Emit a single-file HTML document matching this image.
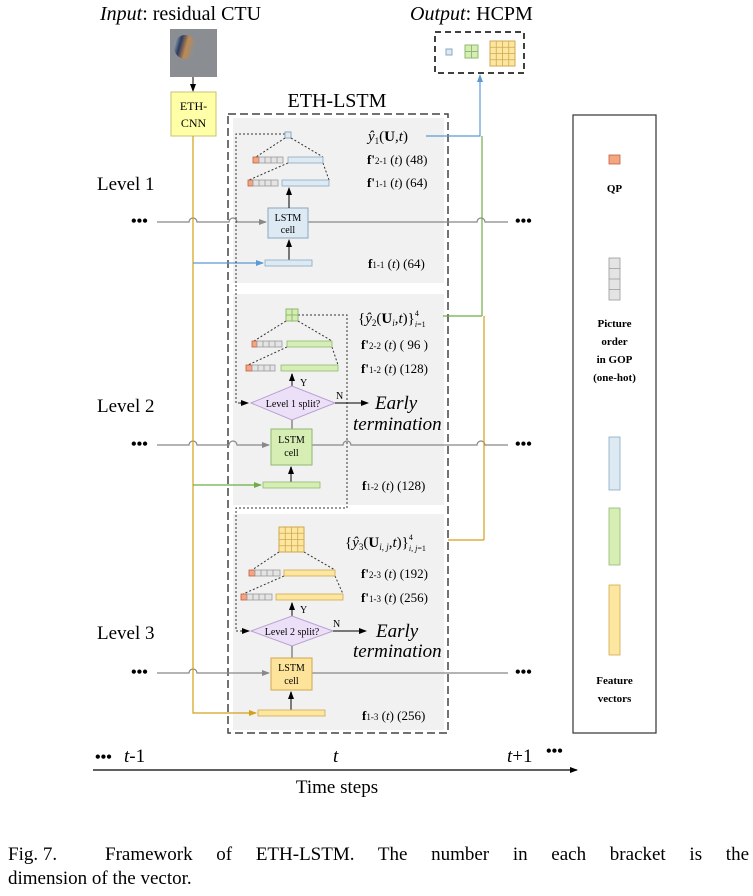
<!DOCTYPE html>
<html><head><meta charset="utf-8"><style>
body{margin:0;background:#fff;width:753px;height:896px;overflow:hidden;position:relative}
svg{display:block}
text{font-family:"Liberation Serif",serif;fill:#000}
.cap{position:absolute;left:8px;width:741px;font:19px/24px "Liberation Serif",serif;color:#000;white-space:nowrap}
.c1{top:843px;text-align:justify;text-align-last:justify;white-space:normal}
.c2{top:867px}
.fig{display:inline-block;width:97px;text-align:left;text-align-last:left}
</style></head><body>
<svg width="753" height="896" viewBox="0 0 753 896" xmlns="http://www.w3.org/2000/svg">
<defs>
<marker id="ak" markerWidth="8" markerHeight="8" refX="7" refY="4" orient="auto" markerUnits="userSpaceOnUse"><path d="M0,1 L8,4 L0,7z" fill="#000"/></marker>
<marker id="ag" markerWidth="8" markerHeight="8" refX="7" refY="4" orient="auto" markerUnits="userSpaceOnUse"><path d="M0,1 L8,4 L0,7z" fill="#888"/></marker>
<marker id="ab" markerWidth="8" markerHeight="8" refX="7" refY="4" orient="auto" markerUnits="userSpaceOnUse"><path d="M0,1 L8,4 L0,7z" fill="#5b9bd5"/></marker>
<marker id="agr" markerWidth="8" markerHeight="8" refX="7" refY="4" orient="auto" markerUnits="userSpaceOnUse"><path d="M0,1 L8,4 L0,7z" fill="#70ad47"/></marker>
<marker id="ay" markerWidth="8" markerHeight="8" refX="7" refY="4" orient="auto" markerUnits="userSpaceOnUse"><path d="M0,1 L8,4 L0,7z" fill="#d4a017"/></marker>
<linearGradient id="blob" x1="0" y1="0" x2="1" y2="0.3"><stop offset="0" stop-color="#c8d0d8"/><stop offset="0.35" stop-color="#2a3a60"/><stop offset="0.65" stop-color="#c08a50"/><stop offset="1" stop-color="#8a8e92"/></linearGradient>
</defs>

<text x="100" y="20" font-size="20"><tspan font-style="italic">Input</tspan>: residual CTU</text>
<text x="410" y="20" font-size="20"><tspan font-style="italic">Output</tspan>: HCPM</text>
<rect x="170" y="29" width="47" height="48" fill="#8a8e92"/>
<ellipse cx="185" cy="47" rx="11" ry="12" fill="url(#blob)"/>
<line x1="193" y1="77" x2="193" y2="91" stroke="#000" marker-end="url(#ak)"/>
<rect x="171" y="92" width="45" height="44" fill="#ffffa8" stroke="#c8c070"/>
<text x="193.5" y="110" font-size="12" text-anchor="middle">ETH-</text>
<text x="193.5" y="127" font-size="12" text-anchor="middle">CNN</text>

<rect x="435" y="32" width="89" height="41" fill="#fff" stroke="#000" stroke-width="1.5" stroke-dasharray="6,4"/>
<rect x="446" y="49" width="6" height="6" fill="#dde9f3" stroke="#8aa8c0"/>
<rect x="465" y="45" width="13" height="13" fill="#d6eeb4" stroke="#90b870"/>
<path d="M471.5 45v13M465 51.5h13" stroke="#90b870"/>
<rect x="490" y="41" width="25" height="25" fill="#fde6a0" stroke="#d0a850"/>
<path d="M496.25 41v25M502.5 41v25M508.75 41v25M490 47.25h25M490 53.5h25M490 59.75h25" stroke="#d0a850" stroke-width="0.8"/>

<text x="337" y="107" font-size="20" text-anchor="middle">ETH-LSTM</text>

<rect x="233" y="118" width="211" height="165" fill="#f1f1f1"/>
<rect x="233" y="294" width="211" height="211" fill="#f1f1f1"/>
<rect x="233" y="514" width="211" height="216" fill="#f1f1f1"/>
<rect x="228" y="114" width="220" height="619" fill="none" stroke="#444" stroke-width="1.5" stroke-dasharray="8,4"/>

<g font-size="19">
<text x="97" y="190">Level 1</text>
<text x="97" y="412">Level 2</text>
<text x="97" y="639">Level 3</text>
</g>
<g font-size="16" font-weight="bold">
<text x="131" y="226">•••</text><text x="515" y="226">•••</text>
<text x="131" y="449">•••</text><text x="515" y="449">•••</text>
<text x="131" y="677">•••</text><text x="515" y="677">•••</text>
</g>

<g fill="none" stroke="#888" stroke-width="1.2">
<path d="M157 222 H189 a4 4 0 0 1 8 0 H229 a4 4 0 0 1 8 0 H266" marker-end="url(#ag)"/>
<path d="M308 222 H477 a4 4 0 0 1 8 0 H508"/>
<path d="M157 445 H189 a4 4 0 0 1 8 0 H229 a4 4 0 0 1 8 0 H269" marker-end="url(#ag)"/>
<path d="M312 445 H343 a4 4 0 0 1 8 0 H477 a4 4 0 0 1 8 0 H508"/>
<path d="M157 673 H189 a4 4 0 0 1 8 0 H269" marker-end="url(#ag)"/>
<path d="M312 673 H508"/>
</g>

<path d="M193 136 V713 H256" fill="none" stroke="#d4a017" stroke-width="1.2" marker-end="url(#ay)"/>
<path d="M193 263 H263" fill="none" stroke="#5b9bd5" stroke-width="1.2" marker-end="url(#ab)"/>
<path d="M193 485 H261" fill="none" stroke="#70ad47" stroke-width="1.2" marker-end="url(#agr)"/>

<path d="M484 540 V316" fill="none" stroke="#d4a017" stroke-width="1.2"/>
<path d="M448 540 H484" fill="none" stroke="#d4a017" stroke-width="1.2"/>
<path d="M482 316 V136" fill="none" stroke="#70ad47" stroke-width="1.2"/>
<path d="M443 316 H482" fill="none" stroke="#70ad47" stroke-width="1.2"/>
<path d="M426 136 H480 V75" fill="none" stroke="#5b9bd5" stroke-width="1.2" marker-end="url(#ab)"/>

<g fill="none" stroke="#333" stroke-width="1" stroke-dasharray="2,2">
<path d="M285 134 H236 V403 H248"/>
<path d="M298 315 H347 V508 H236 V631 H249"/>
</g>
<path d="M240 403 h8" stroke="#000" marker-end="url(#ak)"/>
<path d="M241 631 h8" stroke="#000" marker-end="url(#ak)"/>

<rect x="285" y="132" width="6" height="6" fill="#dde9f3" stroke="#8aa8c0"/>
<g fill="none" stroke="#333" stroke-dasharray="2,2">
<path d="M285 138 L256 157 M291 138 L323 157 M288 163 L249 180 M323 163 L329 180"/>
</g>
<g stroke-width="0.8">
<rect x="253" y="157" width="6" height="6" fill="#f4a582" stroke="#c06040"/>
<rect x="259" y="157" width="24" height="6" fill="#e4e4e4" stroke="#999"/>
<path d="M265 157v6M271 157v6M277 157v6" stroke="#999"/>
<rect x="288" y="157" width="35" height="6" fill="#dde9f3" stroke="#8aa8c0"/>
<rect x="248" y="180" width="5" height="6" fill="#f4a582" stroke="#c06040"/>
<rect x="253" y="180" width="25" height="6" fill="#e4e4e4" stroke="#999"/>
<path d="M259 180v6M265 180v6M271 180v6" stroke="#999"/>
<rect x="282" y="180" width="47" height="6" fill="#dde9f3" stroke="#8aa8c0"/>
</g>
<rect x="268" y="208" width="40" height="30" fill="#dde9f3" stroke="#8aa8c0"/>
<text x="288" y="221" font-size="10" text-anchor="middle">LSTM</text>
<text x="288" y="233" font-size="10" text-anchor="middle">cell</text>
<line x1="289" y1="208" x2="289" y2="188" stroke="#000" marker-end="url(#ak)"/>
<line x1="289" y1="260" x2="289" y2="240" stroke="#000" marker-end="url(#ak)"/>
<rect x="265" y="260" width="47" height="6" fill="#dde9f3" stroke="#8aa8c0" stroke-width="0.8"/>
<g font-size="13">
<text x="368" y="141" font-size="15"><tspan font-style="italic">ŷ</tspan><tspan font-size="9" dy="3">1</tspan><tspan dy="-3">(</tspan><tspan font-weight="bold">U</tspan>,<tspan font-style="italic">t</tspan>)</text>
<text x="367" y="164"><tspan font-weight="bold">f'</tspan><tspan font-size="9">2-1</tspan> (<tspan font-style="italic">t</tspan>) (48)</text>
<text x="367" y="187"><tspan font-weight="bold">f'</tspan><tspan font-size="9">1-1</tspan> (<tspan font-style="italic">t</tspan>) (64)</text>
<text x="368" y="268"><tspan font-weight="bold">f</tspan><tspan font-size="9">1-1</tspan> (<tspan font-style="italic">t</tspan>) (64)</text>
</g>

<rect x="286" y="309" width="12" height="12" fill="#d6eeb4" stroke="#90b870"/>
<path d="M292 309v12M286 315h12" stroke="#90b870"/>
<g fill="none" stroke="#333" stroke-dasharray="2,2">
<path d="M286 321 L254 341 M298 321 L332 341 M287 347 L248 365 M332 347 L338 365"/>
</g>
<g stroke-width="0.8">
<rect x="252" y="341" width="5" height="6" fill="#f4a582" stroke="#c06040"/>
<rect x="257" y="341" width="25" height="6" fill="#e4e4e4" stroke="#999"/>
<path d="M263 341v6M269 341v6M275 341v6" stroke="#999"/>
<rect x="287" y="341" width="45" height="6" fill="#d6eeb4" stroke="#90b870"/>
<rect x="246" y="365" width="6" height="6" fill="#f4a582" stroke="#c06040"/>
<rect x="252" y="365" width="23" height="6" fill="#e4e4e4" stroke="#999"/>
<path d="M258 365v6M264 365v6M270 365v6" stroke="#999"/>
<rect x="281" y="365" width="57" height="6" fill="#d6eeb4" stroke="#90b870"/>
</g>
<line x1="292" y1="386" x2="292" y2="374" stroke="#555" stroke-width="1.5" marker-end="url(#ak)"/>
<text x="300" y="386" font-size="10">Y</text>
<polygon points="251,403 292,386 335,403 292,420" fill="#ece0f8" stroke="#b9a0d0"/>
<text x="293" y="407" font-size="10" text-anchor="middle">Level 1 split?</text>
<text x="336" y="399" font-size="10">N</text>
<line x1="335" y1="403" x2="368" y2="403" stroke="#000" marker-end="url(#ak)"/>
<text x="375" y="409" font-size="19" font-style="italic">Early</text>
<text x="353" y="430" font-size="19" font-style="italic">termination</text>
<line x1="292" y1="420" x2="292" y2="429" stroke="#888" stroke-width="1.5"/>
<rect x="271" y="429" width="41" height="36" fill="#d6eeb4" stroke="#90b870"/>
<text x="291.5" y="443" font-size="10" text-anchor="middle">LSTM</text>
<text x="291.5" y="456" font-size="10" text-anchor="middle">cell</text>
<line x1="291" y1="482" x2="291" y2="467" stroke="#555" stroke-width="1.5" marker-end="url(#ak)"/>
<rect x="263" y="482" width="57" height="6" fill="#d6eeb4" stroke="#90b870" stroke-width="0.8"/>
<g font-size="13">
<text x="358" y="323" font-size="15">{<tspan font-style="italic">ŷ</tspan><tspan font-size="9" dy="3">2</tspan><tspan dy="-3">(</tspan><tspan font-weight="bold">U</tspan><tspan font-size="9" font-style="italic" dy="3">i</tspan><tspan dy="-3">,</tspan><tspan font-style="italic">t</tspan>)}<tspan font-size="8" dy="-7">4</tspan><tspan font-size="8" dx="-4" dy="11"><tspan font-style="italic">i</tspan>=1</tspan></text>
<text x="361" y="349"><tspan font-weight="bold">f'</tspan><tspan font-size="9">2-2</tspan> (<tspan font-style="italic">t</tspan>) ( 96 )</text>
<text x="361" y="373"><tspan font-weight="bold">f'</tspan><tspan font-size="9">1-2</tspan> (<tspan font-style="italic">t</tspan>) (128)</text>
<text x="362" y="490"><tspan font-weight="bold">f</tspan><tspan font-size="9">1-2</tspan> (<tspan font-style="italic">t</tspan>) (128)</text>
</g>

<rect x="279" y="527" width="25" height="25" fill="#fde6a0" stroke="#d0a850"/>
<path d="M285.25 527v25M291.5 527v25M297.75 527v25M279 533.25h25M279 539.5h25M279 545.75h25" stroke="#d0a850" stroke-width="0.8"/>
<g fill="none" stroke="#333" stroke-dasharray="2,2">
<path d="M279 552 L252 570 M304 552 L335 570 M284 576 L243 594 M335 576 L343 594"/>
</g>
<g stroke-width="0.8">
<rect x="249" y="570" width="6" height="6" fill="#f4a582" stroke="#c06040"/>
<rect x="255" y="570" width="25" height="6" fill="#e4e4e4" stroke="#999"/>
<path d="M261 570v6M267 570v6M273 570v6" stroke="#999"/>
<rect x="284" y="570" width="51" height="6" fill="#fde6a0" stroke="#d0a850"/>
<rect x="241" y="594" width="6" height="6" fill="#f4a582" stroke="#c06040"/>
<rect x="247" y="594" width="25" height="6" fill="#e4e4e4" stroke="#999"/>
<path d="M253 594v6M259 594v6M265 594v6" stroke="#999"/>
<rect x="276" y="594" width="67" height="6" fill="#fde6a0" stroke="#d0a850"/>
</g>
<line x1="292" y1="616" x2="292" y2="603" stroke="#555" stroke-width="1.5" marker-end="url(#ak)"/>
<text x="300" y="613" font-size="10">Y</text>
<polygon points="251,631 292,616 333,631 292,646" fill="#ece0f8" stroke="#b9a0d0"/>
<text x="292" y="635" font-size="10" text-anchor="middle">Level 2 split?</text>
<text x="333" y="627" font-size="10">N</text>
<line x1="333" y1="631" x2="366" y2="631" stroke="#000" marker-end="url(#ak)"/>
<text x="376" y="637" font-size="19" font-style="italic">Early</text>
<text x="353" y="657" font-size="19" font-style="italic">termination</text>
<line x1="292" y1="646" x2="292" y2="658" stroke="#888" stroke-width="1.5"/>
<rect x="271" y="658" width="41" height="32" fill="#fde49a" stroke="#d0a850"/>
<text x="291.5" y="671" font-size="10" text-anchor="middle">LSTM</text>
<text x="291.5" y="684" font-size="10" text-anchor="middle">cell</text>
<line x1="291" y1="710" x2="291" y2="692" stroke="#555" stroke-width="1.5" marker-end="url(#ak)"/>
<rect x="258" y="710" width="67" height="6" fill="#fde6a0" stroke="#d0a850" stroke-width="0.8"/>
<g font-size="13">
<text x="345" y="547" font-size="15">{<tspan font-style="italic">ŷ</tspan><tspan font-size="9" dy="3">3</tspan><tspan dy="-3">(</tspan><tspan font-weight="bold">U</tspan><tspan font-size="9" font-style="italic" dy="3">i, j</tspan><tspan dy="-3">,</tspan><tspan font-style="italic">t</tspan>)}<tspan font-size="8" dy="-7">4</tspan><tspan font-size="8" dx="-4" dy="11"><tspan font-style="italic">i, j</tspan>=1</tspan></text>
<text x="361" y="578"><tspan font-weight="bold">f'</tspan><tspan font-size="9">2-3</tspan> (<tspan font-style="italic">t</tspan>) (192)</text>
<text x="361" y="602"><tspan font-weight="bold">f'</tspan><tspan font-size="9">1-3</tspan> (<tspan font-style="italic">t</tspan>) (256)</text>
<text x="362" y="720"><tspan font-weight="bold">f</tspan><tspan font-size="9">1-3</tspan> (<tspan font-style="italic">t</tspan>) (256)</text>
</g>

<rect x="573" y="115" width="83" height="618" fill="#fff" stroke="#333" stroke-width="1.2"/>
<rect x="609" y="155" width="11" height="9" fill="#f4a582" stroke="#c06040" stroke-width="0.8"/>
<text x="614.5" y="192" font-size="11" font-weight="bold" text-anchor="middle">QP</text>
<rect x="609" y="258" width="11" height="42" fill="#e4e4e4" stroke="#999" stroke-width="0.8"/>
<path d="M609 268.5h11M609 279h11M609 289.5h11" stroke="#999" stroke-width="0.8"/>
<g font-size="11" font-weight="bold" text-anchor="middle">
<text x="614.5" y="327">Picture</text>
<text x="614.5" y="345">order</text>
<text x="614.5" y="363">in GOP</text>
<text x="614.5" y="381">(one-hot)</text>
<text x="614.5" y="684">Feature</text>
<text x="614.5" y="702">vectors</text>
</g>
<rect x="609" y="437" width="11" height="53" fill="#dde9f3" stroke="#8aa8c0" stroke-width="0.8"/>
<rect x="609" y="508" width="11" height="57" fill="#d6eeb4" stroke="#90b870" stroke-width="0.8"/>
<rect x="609" y="585" width="11" height="70" fill="#fde6a0" stroke="#d0a850" stroke-width="0.8"/>

<text x="95" y="762" font-size="16" font-weight="bold">•••</text>
<text x="124" y="762" font-size="19"><tspan font-style="italic">t</tspan>-1</text>
<text x="333" y="762" font-size="19" font-style="italic">t</text>
<text x="507" y="762" font-size="19"><tspan font-style="italic">t</tspan>+1</text>
<text x="546" y="756" font-size="16" font-weight="bold">•••</text>
<line x1="93" y1="770" x2="577" y2="770" stroke="#000" stroke-width="1.2" marker-end="url(#ak)"/>
<text x="337" y="793" font-size="19" text-anchor="middle">Time steps</text>
</svg>
<div class="cap c1"><span class="fig">Fig. 7.</span>Framework of ETH-LSTM. The number in each bracket is the</div>
<div class="cap c2">dimension of the vector.</div>
</body></html>
